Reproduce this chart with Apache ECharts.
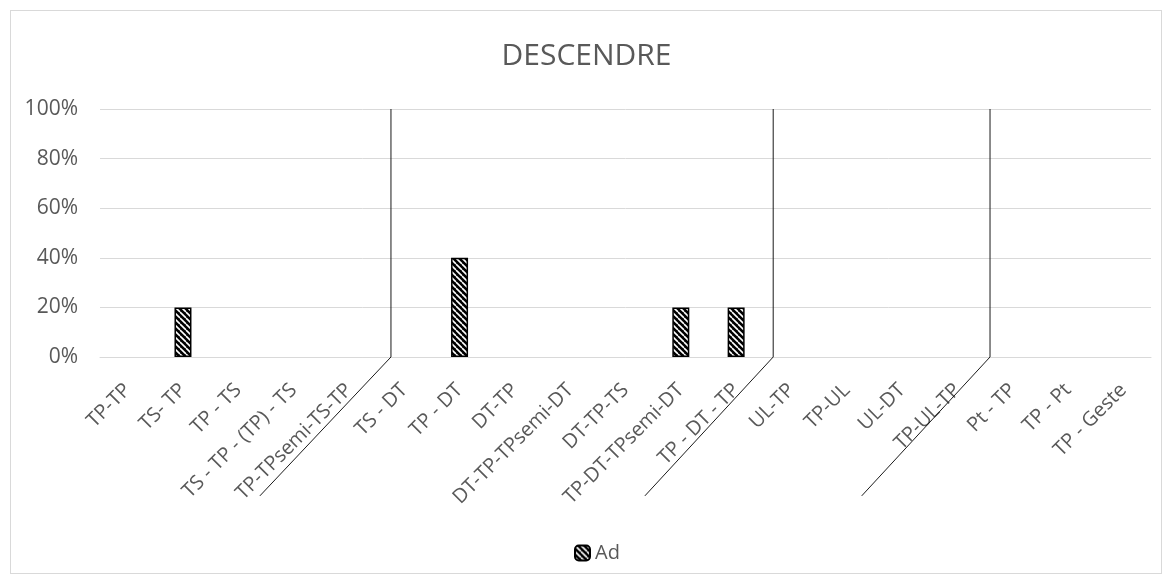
<!DOCTYPE html>
<html>
<head>
<meta charset="utf-8">
<script src="https://cdn.jsdelivr.net/npm/echarts@6/dist/echarts.min.js"></script>
<style>
html,body{margin:0;padding:0;background:#fff;}
#frame{position:absolute;left:10px;top:10px;width:1152px;height:564px;border:1px solid #d9d9d9;box-sizing:border-box;}
#chart{position:absolute;left:0;top:0;width:1173px;height:585px;}
</style>
</head>
<body>
<div id="frame"></div>
<div id="chart"></div>
<script>
// ---- data ----
const categories = ['TP-TP','TS- TP','TP - TS','TS - TP - (TP) - TS','TP-TPsemi-TS-TP','TS - DT','TP - DT','DT-TP','DT-TP-TPsemi-DT','DT-TP-TS','TP-DT-TPsemi-DT','TP - DT - TP','UL-TP','TP-UL','UL-DT','TP-UL-TP','Pt - TP','TP - Pt','TP - Geste'];
const adValues = [0,0.2,0,0,0,0,0.4,0,0,0,0.2,0.2,0,0,0,0,0,0,0];
const yTicks = [0,0.2,0.4,0.6,0.8,1];
const seriesName = 'Ad';
const titleText = 'DESCENDRE';

// ---- layout (group separator lines, in category units) ----
const separatorTop = [4.76, 11.67, 15.59];
const separatorFoot = [2.39, 9.35, 13.27];
const separatorDepth = -0.56;

function makePattern(){
  const c = document.createElement('canvas');
  c.width = 6; c.height = 6;
  const g = c.getContext('2d');
  g.fillStyle = '#000'; g.fillRect(0,0,6,6);
  g.strokeStyle = '#fff'; g.lineWidth = 1.6;
  for (let k=-6;k<=6;k+=6){
    g.beginPath(); g.moveTo(k,0); g.lineTo(k+6,6); g.stroke();
  }
  return c;
}
const pattern = {image: makePattern(), repeat: 'repeat'};

const sepSeries = separatorTop.map((x,i)=>({
  type:'line', xAxisIndex:1, silent:true, clip:false, symbol:'none',
  lineStyle:{color:'#1a1a1a', width:1},
  data:[[x,1],[x,0],[separatorFoot[i],separatorDepth]],
  z:5
}));

const chart = echarts.init(document.getElementById('chart'), null, {renderer:'canvas'});
const font = 'Open Sans';
chart.setOption({
  animation:false,
  title:{text:titleText,left:'center',top:36,textStyle:{fontFamily:font,fontSize:30,fontWeight:'normal',color:'#595959'}},
  legend:{data:[seriesName],bottom:17,left:569,itemWidth:15,itemHeight:15,itemGap:4,
    textStyle:{fontFamily:font,fontSize:20,color:'#595959'}},
  grid:{left:100,right:22,top:109,bottom:228,containLabel:false},
  xAxis:[{
    type:'category',data:categories,
    axisLine:{show:true,lineStyle:{color:'#d9d9d9',width:1}},
    axisTick:{show:false},
    axisLabel:{rotate:45,interval:0,margin:30,fontFamily:font,fontSize:20,color:'#595959'}
  },{
    type:'value',min:-0.5,max:18.5,show:false
  }],
  yAxis:{
    type:'value',min:0,max:1,interval:0.2,
    axisLine:{show:false},axisTick:{show:false},
    splitLine:{lineStyle:{color:'#d9d9d9',width:1}},
    axisLabel:{fontFamily:font,fontSize:21,color:'#595959',margin:22,
      formatter:v=>Math.round(v*100)+'%'}
  },
  series:[{
    name:seriesName,type:'bar',barWidth:17,
    data:adValues.map(v=>v===0?null:v),
    itemStyle:{color:pattern,borderColor:'#000',borderWidth:1.5},
    z:3
  }].concat(sepSeries)
});
</script>
</body>
</html>
